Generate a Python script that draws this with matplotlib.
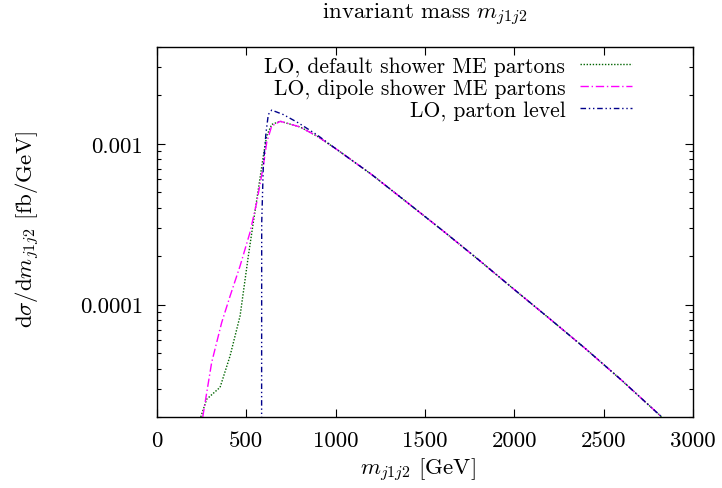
import numpy as np
import matplotlib.pyplot as plt
from matplotlib.ticker import FixedLocator, FixedFormatter, LogLocator, NullFormatter

plt.rcParams['font.family'] = 'cmr10'
plt.rcParams['mathtext.fontset'] = 'cm'
plt.rcParams['axes.formatter.use_mathtext'] = True

# tail common to all three curves (GeV, fb/GeV)
tail_m = [800, 900, 1000, 1200, 1400, 1600, 1800, 2000, 2200, 2400, 2600, 2825]
tail_v = [1.274e-3, 1.109e-3, 9.33e-4, 6.46e-4, 4.32e-4, 2.88e-4, 1.90e-4,
          1.24e-4, 8.13e-5, 5.30e-5, 3.39e-5, 2.0e-5]

# LO, default shower ME partons
m_default = [245, 278, 353, 409, 465, 511, 539, 567, 595, 614, 642, 690] + tail_m
v_default = [2.0e-5, 2.58e-5, 3.06e-5, 4.80e-5, 8.51e-5, 2.00e-4, 3.24e-4, 5.20e-4,
             8.38e-4, 1.12e-3, 1.32e-3, 1.38e-3] + tail_v

# LO, dipole shower ME partons
m_dipole = [256, 306, 362, 409, 465, 520, 558, 595, 614, 642, 690] + tail_m
v_dipole = [2.0e-5, 4.37e-5, 7.73e-5, 1.13e-4, 1.74e-4, 2.80e-4, 4.31e-4, 7.26e-4,
            1.02e-3, 1.29e-3, 1.38e-3] + tail_v

# LO, parton level
m_parton = [585, 586, 595, 610, 623, 642, 707, 791, 894] + tail_m[2:]
v_parton = [1.0e-6, 3.2e-4, 7.26e-4, 1.17e-3, 1.52e-3, 1.62e-3, 1.52e-3, 1.35e-3,
            1.14e-3] + tail_v[2:]

fig = plt.figure(figsize=(7.22, 4.89), dpi=100)
ax = fig.add_axes([157/722, 1 - 418/489, (693 - 157)/722, (418 - 48)/489])

ax.plot(m_default, v_default, color='#006400', lw=1.0, dashes=(1, 1.2),
        label='LO, default shower ME partons')
ax.plot(m_dipole, v_dipole, color='#ff00ff', lw=1.0, dashes=(6, 2, 1, 2),
        label='LO, dipole shower ME partons')
ax.plot(m_parton, v_parton, color='#00008b', lw=1.0, dashes=(4, 2, 1, 2, 1, 2),
        label='LO, parton level')

ax.set_yscale('log')
ax.set_xlim(0, 3000)
ax.set_ylim(2e-5, 4e-3)

ax.xaxis.set_major_locator(FixedLocator([0, 500, 1000, 1500, 2000, 2500, 3000]))
ax.xaxis.set_major_formatter(FixedFormatter(['0', '500', '1000', '1500', '2000', '2500', '3000']))
ax.yaxis.set_major_locator(FixedLocator([1e-4, 1e-3]))
ax.yaxis.set_major_formatter(FixedFormatter(['0.0001', '0.001']))
ax.yaxis.set_minor_locator(LogLocator(base=10, subs=np.arange(2, 10)))
ax.yaxis.set_minor_formatter(NullFormatter())

ax.tick_params(which='both', direction='in', top=True, right=True, labelsize=16.5)
ax.tick_params(which='major', length=6, width=0.8, pad=10)
ax.tick_params(which='minor', length=3, width=0.8)
for s in ax.spines.values():
    s.set_linewidth(1.0)

ax.set_xlabel(r'$m_{j1j2}$ [GeV]', fontsize=16.5)
ax.xaxis.set_label_coords(0.487, -0.106)
ax.set_ylabel(r'$\mathrm{d}\sigma/\mathrm{d}m_{j1j2}$ [fb/GeV]', fontsize=16.5)
ax.yaxis.set_label_coords(-0.214, 0.51)
fig.text(425/722, 1 - 15/489, r'invariant mass $m_{j1j2}$', fontsize=16.5,
         ha='center', va='center')

ax.legend(loc='upper right', bbox_to_anchor=(632/722, 1 - 57/489),
          bbox_transform=fig.transFigure, frameon=False, markerfirst=False,
          fontsize=15.5, handlelength=2.4, handletextpad=0.7, labelspacing=0.1,
          borderpad=0, borderaxespad=0)

fig.savefig('out.png', dpi=100)
